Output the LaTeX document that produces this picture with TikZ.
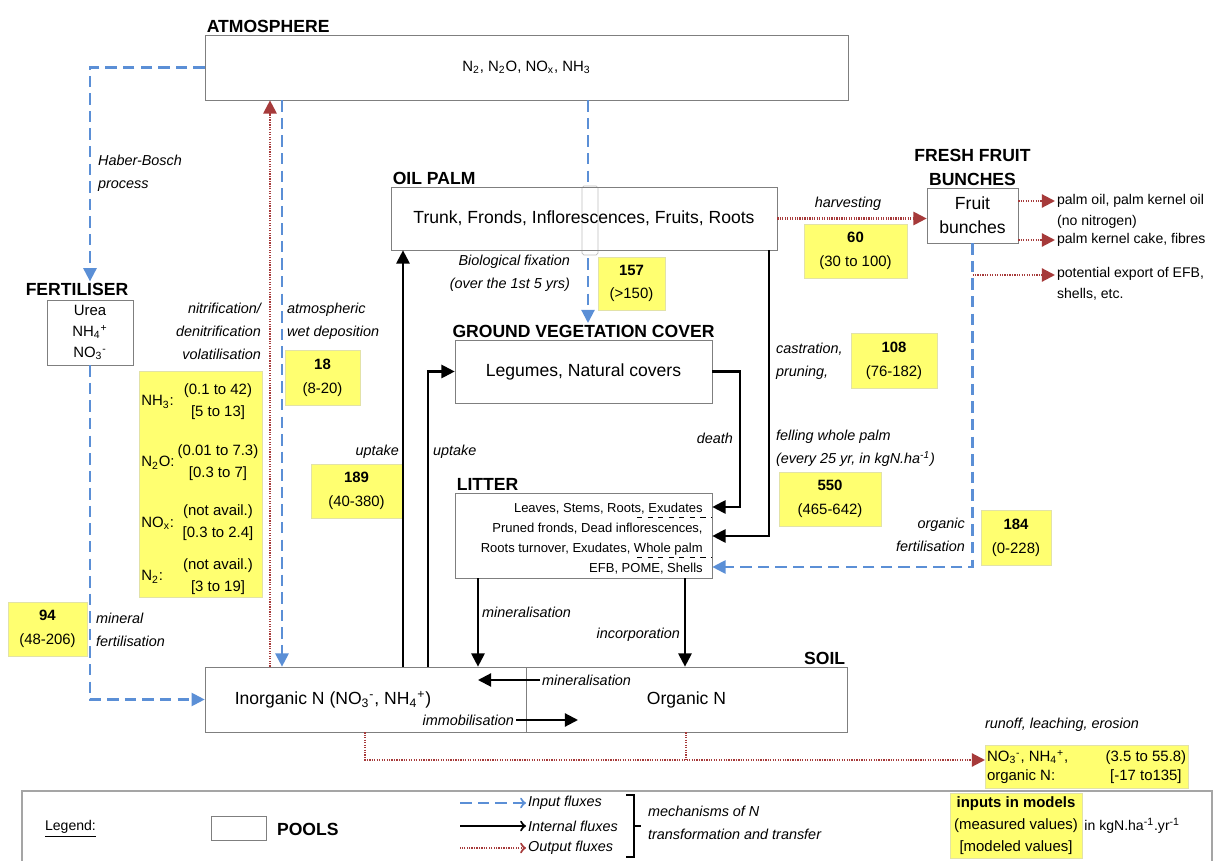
\documentclass[tikz,border=0pt]{standalone}
\usepackage{fontspec}
\setmainfont{Liberation Sans}
\usepackage{tikz}
\usetikzlibrary{arrows.meta, positioning}

\definecolor{inblue}{HTML}{5B8FD6}
\definecolor{outred}{HTML}{A63A3A}
\definecolor{valyellow}{HTML}{FFFF70}
\definecolor{valedge}{HTML}{E2E2A8}
\definecolor{pooledge}{HTML}{7F7F7F}

\begin{document}
\begin{tikzpicture}[x=0.02cm, y=-0.02cm, >={Triangle[length=7.5pt,width=7.5pt]},
  pool/.style={draw=pooledge, thin, inner sep=1pt, align=center,
    font=\fontsize{10}{13.6}\selectfont},
  title/.style={inner sep=1pt, align=center, font=\fontsize{10}{13.6}\selectfont\bfseries},
  flux/.style={inner sep=1pt, font=\fontsize{8.2}{13}\selectfont\itshape},
  val/.style={fill=valyellow, draw=valedge, inner sep=1pt, align=center,
    font=\fontsize{8.5}{13.5}\selectfont},
  small/.style={inner sep=1pt, font=\fontsize{8}{12}\selectfont},
  input/.style={->, draw=inblue, line width=1.2pt, dash pattern=on 6.5pt off 3.5pt},
  internal/.style={->, draw=black, line width=1.2pt},
  output/.style={->, draw=outred, line width=1.2pt, dash pattern=on 0.7pt off 0.7pt}]

  \useasboundingbox (0,0) rectangle (1215,861);

  % pools
  \node[pool, minimum width=12.86cm, minimum height=1.3cm, font=\fontsize{8.5}{10}\selectfont] (atm) at (526.5,67.5)
    {N\textsubscript{2}, N\textsubscript{2}O, NO\textsubscript{x}, NH\textsubscript{3}};
  \node[pool, minimum width=1.72cm, minimum height=1.3cm, font=\fontsize{8.5}{12}\selectfont] (fert) at (90,332.5)
    {Urea\\NH\textsubscript{4}\textsuperscript{+}\\NO\textsubscript{3}\textsuperscript{-}};
  \node[pool, minimum width=5.14cm, minimum height=1.26cm] (gvc) at (583.5,371.5) {Legumes, Natural covers};
  \node[pool, minimum width=5.14cm, minimum height=1.7cm] (lit) at (583.5,535.5) {};
  \node[inner sep=0pt, anchor=north east, align=right, font=\fontsize{7.4}{11.3}\selectfont] (litX) at (703,503)
    {Leaves, Stems, Roots, Exudates\\Pruned fronds, Dead inflorescences,\\Roots turnover, Exudates, Whole palm\\EFB, POME, Shells};
  \node[pool, minimum width=6.42cm, minimum height=1.3cm] (inorg) at (365.5,699.5) {};
  \node[pool, minimum width=6.42cm, minimum height=1.3cm] (org) at (686.5,699.5) {Organic N};
  \node[pool, minimum width=1.82cm, minimum height=1.1cm] (fruit) at (972.5,215.5) {Fruit\\bunches};
  \node[inner sep=0pt, font=\fontsize{10}{12}\selectfont] (inorgT) at (333,700)
    {Inorganic N (NO\textsubscript{3}\textsuperscript{-}, NH\textsubscript{4}\textsuperscript{+})};
  \draw[dashed, thin] (637,517) -- (lit.east |- 0,517);
  \draw[dashed, thin] (637,557) -- (lit.east |- 0,557);

  % titles
  \node[title, above right=0pt and 0pt of atm.north west] (atmT) {ATMOSPHERE};
  \node[title, anchor=south] (fertT) at (77,298) {FERTILISER};
  \node[title, above=0pt of gvc.north] (gvcT) {GROUND VEGETATION COVER};
  \node[title, above right=0pt and 0pt of lit.north west] (litT) {LITTER};
  \node[title, above left=0pt and 0pt of org.north east] (soilT) {SOIL};
  \node[title, above=0pt of fruit.north] (fruitT) {FRESH FRUIT\\BUNCHES};

  % biological fixation runs under the oil palm pool
  \coordinate (bf) at (588,0);
  \draw[input] (bf |- atm.south) -- (bf |- gvcT.north);
  \draw[pooledge!50, fill=white, rounded corners=1pt] (582,186) rectangle (598,255);
  \node[pool, minimum width=7.72cm, minimum height=1.26cm] (palm) at (584,218.5)
    {Trunk, Fronds, Inflorescences, Fruits, Roots};
  \node[title, above right=0pt and 0pt of palm.north west] (palmT) {OIL PALM};

  % exports
  \node[small, anchor=north west, align=left] (ex1) at (1055,192) {palm oil, palm kernel oil\\(no nitrogen)};
  \node[small, anchor=west] (ex2) at (1055,240) {palm kernel cake, fibres};
  \node[small, anchor=north west, align=left] (ex3) at (1055,265) {potential export of EFB,\\shells, etc.};

  % values
  \node[val, minimum width=1.58cm, minimum height=1.08cm] (v94) at (47.5,629) {\textbf{94}\\(48-206)};
  \node[val, minimum width=1.5cm, minimum height=1.1cm] (v18) at (322.5,377.5) {\textbf{18}\\(8-20)};
  \node[val, minimum width=1.82cm, minimum height=1.08cm] (v189) at (356.5,491) {\textbf{189}\\(40-380)};
  \node[val, minimum width=1.34cm, minimum height=1.06cm] (v157) at (631.5,283.5) {\textbf{157}\\(>150)};
  \node[val, minimum width=2.06cm, minimum height=1.08cm] (v60) at (855.5,251) {\textbf{60}\\(30 to 100)};
  \node[val, minimum width=1.72cm, minimum height=1.1cm] (v108) at (894,360.5) {\textbf{108}\\(76-182)};
  \node[val, minimum width=2.04cm, minimum height=1.08cm] (v550) at (830,499) {\textbf{550}\\(465-642)};
  \node[val, minimum width=1.4cm, minimum height=1.1cm] (v184) at (1016,537.5) {\textbf{184}\\(0-228)};
  \node[val, minimum width=2.46cm, minimum height=4.52cm] (gas) at (200.5,484) {};
  \foreach \sp/\rng/\y in {{NH\textsubscript{3}:}/{(0.1 to 42)\\{}[5 to 13]}/402,
      {N\textsubscript{2}O:}/{(0.01 to 7.3)\\{}[0.3 to 7]}/463,
      {NO\textsubscript{x}:}/{(not avail.)\\{}[0.3 to 2.4]}/523,
      {N\textsubscript{2}:}/{(not avail.)\\{}[3 to 19]}/577}
  {
    \node[inner sep=0pt, anchor=west, font=\fontsize{8.5}{12.5}\selectfont] at (141,\y) {\sp};
    \node[inner sep=0pt, align=center, font=\fontsize{8.5}{12.5}\selectfont] at (218,\y) {\rng};
  }
  \node[flux, anchor=west] (roT) at (983,725) {runoff, leaching, erosion};
  \node[val, anchor=north west, minimum width=4.04cm, minimum height=0.8cm, font=\fontsize{8.5}{11.3}\selectfont] (ro) at (985,745)
    {\begin{tabular}{@{}p{1.95cm}c@{}}NO\textsubscript{3}\textsuperscript{-}, NH\textsubscript{4}\textsuperscript{+}, & (3.5 to 55.8)\\ organic N: & [-17 to135]\end{tabular}};

  % flux labels
  \node[flux, anchor=north west, align=left] (hbL) at (96,153) {Haber-Bosch\\process};
  \node[flux, anchor=north west, align=left] (mfL) at (94,611) {mineral\\fertilisation};
  \node[flux, anchor=north east, align=right] (ndL) at (263,301) {nitrification/\\denitrification\\volatilisation};
  \node[flux, anchor=north west, align=left] (wdL) at (285,301) {atmospheric\\wet deposition};
  \node[flux, anchor=east] (up1L) at (401,452) {uptake};
  \node[flux, anchor=west] (up2L) at (431,452) {uptake};
  \node[flux, anchor=north east, align=right] (bfL) at (572,253) {Biological fixation\\(over the 1st 5 yrs)};
  \node[flux] (hvL) at (848,204) {harvesting};
  \node[flux, anchor=north west, align=left] (cpL) at (774,341) {castration,\\pruning,};
  \node[flux, anchor=north west, align=left] (fwL) at (774,428) {felling whole palm\\(every 25 yr, in kgN.ha\textsuperscript{-1})};
  \node[flux, anchor=east] (dL) at (735,438) {death};
  \node[flux, anchor=north east, align=right] (ofL) at (967,516) {organic\\fertilisation};
  \node[flux, anchor=west] (mlL) at (480,612) {mineralisation};
  \node[flux, anchor=east] (icL) at (682,635) {incorporation};
  \node[flux, anchor=west] (minS) at (540,680) {mineralisation};
  \node[flux, anchor=east] (immS) at (516,720) {immobilisation};

  % input fluxes
  \draw[input] (atm.west) -| (fert.north |- fertT.north);
  \draw[input] (fert.south) |- (inorg.west);
  \coordinate (wd) at (282,0);
  \draw[input] (wd |- atm.south) -- (wd |- inorg.north);
  \draw[input] (fruit.south) |- (lit.east |- 0,567);

  % output fluxes
  \coordinate (nv) at (270,0);
  \draw[output] (nv |- inorg.north) -- (nv |- atm.south);
  \draw[output] (palm.east) -- (palm.east -| fruit.west);
  \draw[output] (fruit.east |- 0,201) -- (ex1.west |- 0,201);
  \draw[output] (fruit.east |- 0,240) -- (ex2.west);
  \draw[output] (fruit.south |- 0,275) -- (ex3.west |- 0,275);
  \draw[output] (inorg.south -| 365,0) |- (ro.west |- 0,760);
  \draw[output, -] (org.south -| 686,0) -- (686,760);

  % internal fluxes
  \coordinate (up1) at (403,0);
  \coordinate (up2) at (428,0);
  \draw[internal] (up1 |- inorg.north) -- (up1 |- palm.south);
  \draw[internal] (up2 |- inorg.north) |- (gvc.west);
  \draw[internal] (gvc.east) -- ++(28,0) |- (lit.east |- 0,507);
  \draw[internal] (palm.south -| 769,0) |- (lit.east |- 0,536);
  \draw[internal] (lit.south -| 478,0) -- (inorg.north -| 478,0);
  \draw[internal] (lit.south -| 685,0) -- (org.north -| 685,0);
  \draw[internal] (minS.west) -- ++(-62,0);
  \draw[internal] (immS.east) -- ++(62,0);

  % legend
  \draw[pooledge!70, line width=0.8pt] (22,861) |- (1212,791) -- (1212,861);
  \node[small, anchor=west] (leg) at (43,829) {\underline{Legend:}};
  \node[pool, minimum width=1.1cm, minimum height=0.48cm] (legP) at (238.5,828) {};
  \node[title, anchor=west] (legPT) at (275,829) {POOLS};
  \node[flux, anchor=west] (legI) at (526,803) {Input fluxes};
  \node[flux, anchor=west] (legN) at (526,826) {Internal fluxes};
  \node[flux, anchor=west] (legO) at (526,848) {Output fluxes};
  \draw[input, to-] (legI.west) -- ++(-66,0);
  \draw[internal, to-] (legN.west) -- ++(-66,0);
  \draw[output, to-] (legO.west) -- ++(-66,0);
  \draw[line width=0.8pt] (626,795) -- (634,795) -- (634,857) -- (626,857) (634,826) -- (641,826);
  \node[flux, anchor=north west, align=left] (legM) at (646,804) {mechanisms of N\\transformation and transfer};
  \node[val, minimum width=2.64cm, minimum height=1.3cm, font=\fontsize{8.5}{12.5}\selectfont] (legV) at (1016,825.5)
    {\textbf{inputs in models}\\(measured values)\\{}[modeled values]};
  \node[small, anchor=west] (legU) at (legV.east) {in kgN.ha\textsuperscript{-1}.yr\textsuperscript{-1}};
\end{tikzpicture}
\end{document}
